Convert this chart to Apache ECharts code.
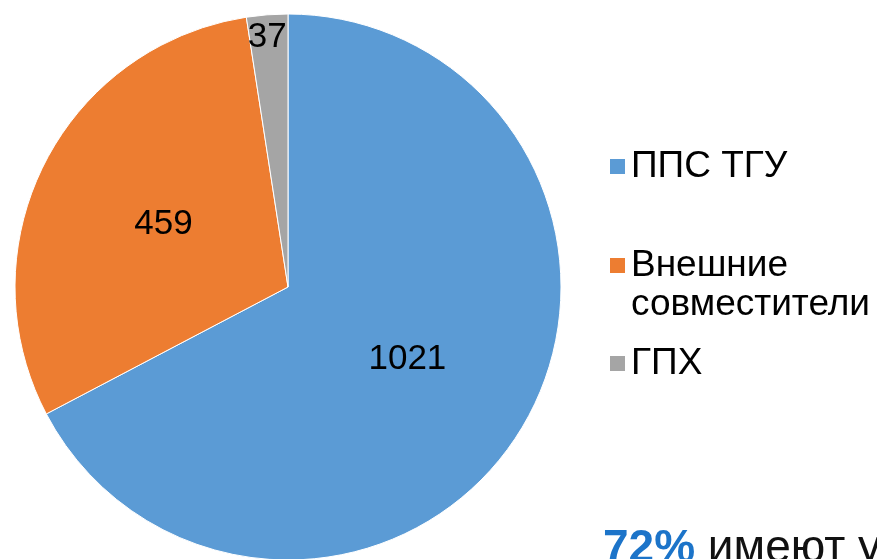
<!DOCTYPE html>
<html>
<head>
<meta charset="utf-8">
<script src="https://cdn.jsdelivr.net/npm/echarts@6/dist/echarts.min.js"></script>
<style>
  html, body { margin: 0; padding: 0; background: #fff; }
  #chart { width: 877px; height: 559px; }
</style>
</head>
<body>
<div id="chart"></div>
<script>
// данные диаграммы
var categories = ['ППС ТГУ', 'Внешние\nсовместители', 'ГПХ'];
var values = [1021, 459, 37];
var colors = ['#5B9BD5', '#ED7D31', '#A5A5A5'];

var myChart = echarts.init(document.getElementById('chart'));

var font = 'Liberation Sans, Arial, Helvetica, sans-serif';

// одна легенда на пункт, чтобы задать неравные отступы
function makeLegend(name, top) {
    return {
        data: [name],
        orient: 'vertical',
        left: 608,
        top: top,
        padding: 0,
        itemWidth: 17,
        itemHeight: 17,
        icon: 'rect',
        selectedMode: false,
        // пустая первая строка, чтобы маркер стоял у первой строки текста
        formatter: function (n) {
            return n.indexOf('\n') >= 0 ? '\n' + n : n;
        },
        textStyle: {
            fontFamily: font,
            fontSize: 37,
            lineHeight: 39,
            color: '#000'
        }
    };
}

var option = {
    animation: false,
    color: colors,
    legend: [
        makeLegend(categories[0], 147),
        makeLegend(categories[1], 207),
        makeLegend(categories[2], 344)
    ],
    graphic: [
        {
            type: 'text',
            left: 603,
            top: 526,
            style: {
                text: '{a|72%}{b| имеют ученую степень}',
                rich: {
                    a: { fontFamily: font, fontSize: 46, fontWeight: 'bold', fill: '#1C74C9' },
                    b: { fontFamily: font, fontSize: 46, fill: '#111' }
                }
            }
        }
    ],
    series: [
        {
            type: 'pie',
            center: [288, 287],
            radius: [0, 273],
            startAngle: 90,
            clockwise: true,
            avoidLabelOverlap: false,
            itemStyle: {
                borderColor: '#fff',
                borderWidth: 1
            },
            label: {
                position: 'inside',
                formatter: '{c}',
                fontFamily: font,
                fontSize: 35,
                color: '#000'
            },
            labelLine: { show: false },
            emphasis: { disabled: true },
            labelLayout: function (params) {
                // подпись узкого сектора ближе к краю
                if (params.dataIndex === 2) {
                    return { dx: -10, dy: -111 };
                }
                return {};
            },
            data: categories.map(function (c, i) {
                return { name: c, value: values[i] };
            })
        }
    ]
};

myChart.setOption(option);
</script>
</body>
</html>
